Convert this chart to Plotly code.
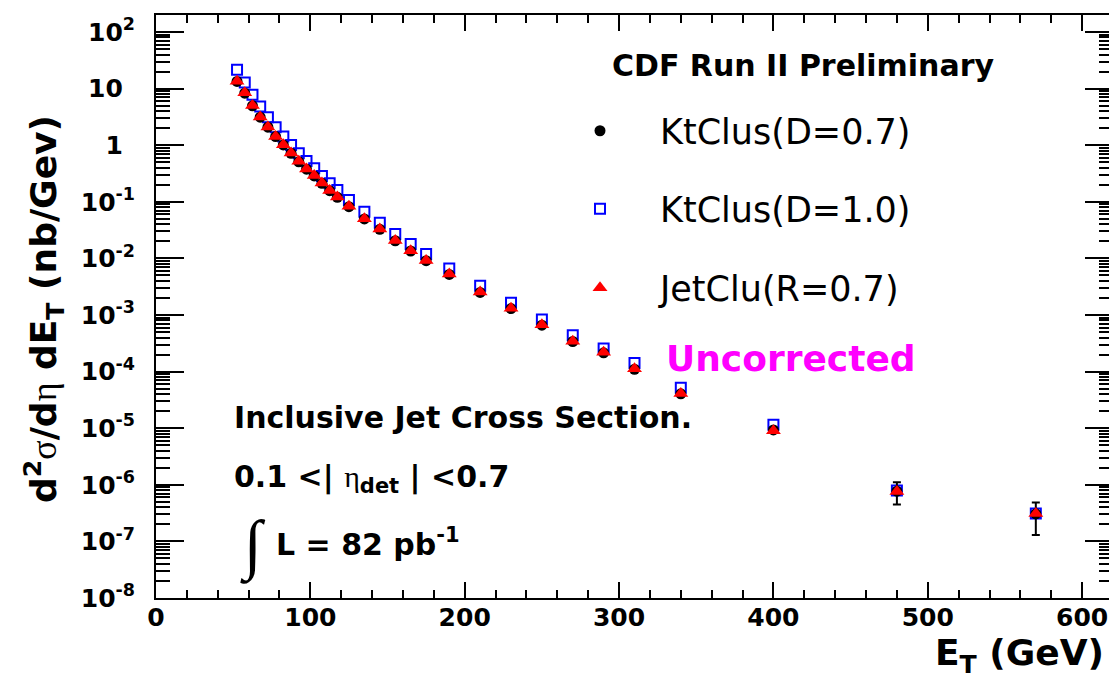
import plotly.graph_objects as go

# ---------------- data ----------------
et = [52.5, 57.5, 62.5, 67.5, 72.5, 77.5, 82.5, 87.5, 92.5, 97.5,
      102.5, 107.5, 112.5, 117.5, 125, 135, 145, 155, 165, 175,
      190, 210, 230, 250, 270, 290, 310, 340, 400, 480, 570]

ktclus_d07 = [13.4, 8.3, 4.97, 3.13, 2.08, 1.42, 1.01, 0.72, 0.51, 0.376,
              0.286, 0.212, 0.157, 0.120, 0.082, 0.0497, 0.0326, 0.0205, 0.0135, 0.0091,
              0.0052, 0.0025, 1.30e-3, 6.6e-4, 3.4e-4, 2.15e-4, 1.1e-4, 4.05e-5, 9.3e-6, 7.7e-7, 3.07e-7]

ktclus_d10 = [21.5, 12.8, 7.76, 4.82, 3.13, 2.08, 1.42, 1.01, 0.72, 0.527,
              0.392, 0.286, 0.212, 0.162, 0.108, 0.0668, 0.0427, 0.0269, 0.0179, 0.0119,
              0.00665, 0.00327, 1.64e-3, 8.3e-4, 4.4e-4, 2.55e-4, 1.42e-4, 5.2e-5, 1.15e-5, 7.9e-7, 3.1e-7]

jetclu_r07 = [13.5, 8.4, 5.0, 3.15, 2.1, 1.43, 1.02, 0.73, 0.52, 0.38,
              0.29, 0.215, 0.158, 0.121, 0.083, 0.05, 0.033, 0.0207, 0.0136, 0.0092,
              0.0053, 0.00255, 1.31e-3, 6.7e-4, 3.45e-4, 2.2e-4, 1.12e-4, 4.1e-5, 9.0e-6, 7.6e-7, 3.1e-7]

err_plus = [None] * 29 + [3.4e-7, 1.8e-7]
err_minus = [None] * 29 + [3.2e-7, 1.77e-7]

ytick_vals = [1e-8, 1e-7, 1e-6, 1e-5, 1e-4, 1e-3, 1e-2, 1e-1, 1, 10, 100]
ytick_text = ["10<sup>-8</sup>", "10<sup>-7</sup>", "10<sup>-6</sup>", "10<sup>-5</sup>",
              "10<sup>-4</sup>", "10<sup>-3</sup>", "10<sup>-2</sup>", "10<sup>-1</sup>",
              "1<sup>&nbsp;&nbsp;</sup>", "10<sup>&nbsp;&nbsp;</sup>", "10<sup>2</sup>"]

# ---------------- layout geometry (page pixels; the page body has an 8px margin) ----------------
OFF = 8
PW, PH = 1117, 680
W, H = PW - OFF, PH - OFF
L, R, T, B = 156, 1113, 15, 598  # plot frame in page pixels


def px(x, y):
    return (x - L) / (R - L), 1 - (y - T) / (B - T)


BOLD = dict(family="DejaVu Sans", color="black", weight="bold")
SERIF = 'font-family:Liberation Serif;font-weight:normal'

fig = go.Figure()

fig.add_trace(go.Scatter(
    x=et, y=ktclus_d10, mode="markers", name="KtClus(D=1.0)",
    marker=dict(symbol="square-open", size=10, color="#0000ff", line=dict(width=2, color="#0000ff")),
    legend="legend2"))

fig.add_trace(go.Scatter(
    x=et, y=ktclus_d07, mode="markers", name="KtClus(D=0.7)",
    marker=dict(symbol="circle", size=11, color="black"),
    error_y=dict(type="data", array=err_plus, arrayminus=err_minus, symmetric=False,
                 color="black", thickness=2, width=4),
    legend="legend"))

fig.add_trace(go.Scatter(
    x=et, y=jetclu_r07, mode="markers", name="JetClu(R=0.7)",
    marker=dict(symbol="triangle-up", size=13, color="#ff0000"),
    legend="legend3"))

legfont = dict(family="DejaVu Sans", size=35, color="black")
lx = px(540, 0)[0]
for key, yy in (("legend", 131), ("legend2", 209), ("legend3", 288)):
    fig.update_layout({key: dict(x=lx, y=px(0, yy)[1], xanchor="left", yanchor="middle",
                                 font=legfont, bgcolor="rgba(0,0,0,0)", borderwidth=0,
                                 itemwidth=110)})

annos = [
    dict(text="CDF Run II Preliminary", x=610, y=66, size=30, xanchor="left"),
    dict(text='<span style="color:#ff00ff">Uncorrected</span>', x=664, y=358, size=36, xanchor="left"),
    dict(text="Inclusive Jet Cross Section.", x=232, y=417, size=30, xanchor="left"),
    dict(text='0.1 &lt;| <span style="%s">η</span><sub>det</sub> | &lt;0.7' % SERIF,
         x=232, y=478, size=30, xanchor="left"),
    dict(text="L = 82 pb<sup>-1</sup>", x=274, y=542, size=30, xanchor="left"),
]
for a in annos:
    xx, yy = px(a["x"], a["y"])
    fig.add_annotation(text=a["text"], x=xx, y=yy, xref="paper", yref="paper",
                       xanchor=a["xanchor"], yanchor="middle", showarrow=False,
                       font=dict(BOLD, size=a["size"]))

xx, yy = px(253, 545)
fig.add_annotation(text="∫", x=xx, y=yy, xref="paper", yref="paper", showarrow=False,
                   xanchor="center", yanchor="middle",
                   font=dict(family="Liberation Serif", size=66, color="black"))

# axis titles
xx, yy = px(1106, 655)
fig.add_annotation(text="E<sub>T</sub> (GeV)", x=xx, y=yy, xref="paper", yref="paper",
                   xanchor="right", yanchor="middle", showarrow=False,
                   font=dict(BOLD, size=36))
xx, yy = px(44, 309)
fig.add_annotation(text='d<sup>2</sup><span style="%s">σ</span>/d<span style="%s">η</span> dE<sub>T</sub> (nb/Gev)' % (SERIF, SERIF),
                   x=xx, y=yy, xref="paper", yref="paper", textangle=-90,
                   xanchor="center", yanchor="middle", showarrow=False,
                   font=dict(BOLD, size=36))

axis_common = dict(showline=True, linecolor="black", linewidth=2, mirror="ticks",
                   ticks="inside", tickcolor="black", tickwidth=2,
                   showgrid=False, zeroline=False, automargin=False)

fig.update_xaxes(range=[0, 620], dtick=100, tick0=0, ticklen=16,
                 minor=dict(dtick=20, tick0=0, ticklen=8, ticks="inside", tickcolor="black", tickwidth=2),
                 tickfont=dict(BOLD, size=25), ticklabelstandoff=-4, **axis_common)

yminor = [k * 10.0 ** n for n in range(-8, 3) for k in range(2, 10)]
fig.update_yaxes(type="log", range=[-8, 2.3], tickmode="array", tickvals=ytick_vals, ticktext=ytick_text,
                 ticklen=28,
                 minor=dict(tickmode="array", tickvals=yminor, ticklen=14, ticks="inside",
                            tickcolor="black", tickwidth=2),
                 tickfont=dict(BOLD, size=25), ticklabelstandoff=14, **axis_common)

fig.update_layout(width=W, height=H,
                  margin=dict(l=L - OFF, r=PW - R, t=T - OFF, b=PH - B, pad=0, autoexpand=False),
                  plot_bgcolor="white", paper_bgcolor="white", showlegend=True)

fig.write_html("out.html")
